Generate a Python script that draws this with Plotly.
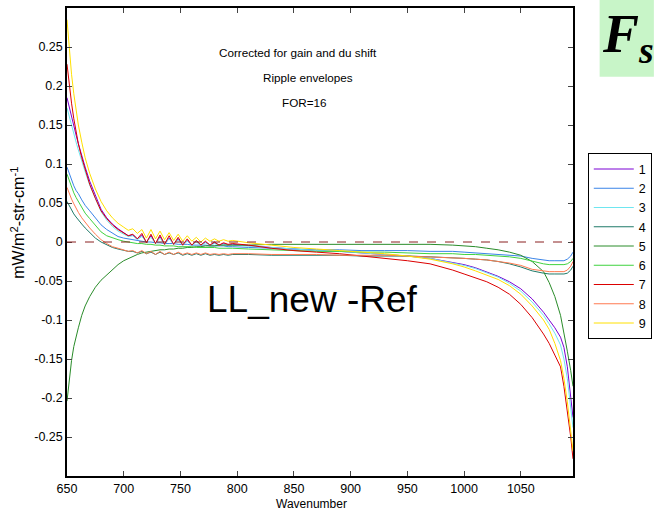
import plotly.graph_objects as go

# ---------------- data ----------------
x_left = [650, 652, 654, 656, 658, 660, 663, 666, 670, 675, 680, 685, 690, 695]
x_mid = [700, 704, 708, 712, 716, 720, 724, 728, 732, 736, 740, 744, 748, 752,
         756, 760, 764, 768, 772, 776, 780, 784, 788, 792, 796]
x_right = [810, 830, 850, 870, 890, 910, 930, 950, 970, 990, 1000, 1010, 1020,
           1030, 1040, 1050, 1060, 1070, 1075, 1080, 1085, 1088, 1091, 1094, 1096]
wavenumber = x_left + x_mid + x_right

s1 = ([0.185, 0.172, 0.160, 0.148, 0.137, 0.126, 0.110, 0.096, 0.078, 0.059, 0.042, 0.031, 0.023, 0.017]
      + [0.012, 0.008, 0.009, 0.004, 0.009, 0.000, 0.008, -0.002, 0.007, -0.003, 0.005, -0.003, 0.004,
         -0.004, 0.002, -0.004, 0.001, -0.004, 0.000, -0.004, -0.001, -0.004, -0.002, -0.004, -0.003]
      + [-0.005, -0.007, -0.009, -0.011, -0.012, -0.014, -0.016, -0.018, -0.021, -0.026, -0.029, -0.033,
         -0.038, -0.044, -0.051, -0.060, -0.073, -0.090, -0.100, -0.110, -0.122, -0.135, -0.160, -0.195, -0.225])
s2 = ([0.096, 0.087, 0.079, 0.072, 0.066, 0.062, 0.054, 0.047, 0.040, 0.031, 0.022, 0.016, 0.011, 0.007]
      + [0.005, 0.004, 0.003, 0.002, 0.001, 0.000, 0.000, -0.001, -0.001, -0.002, -0.002, -0.002, -0.003,
         -0.003, -0.003, -0.004, -0.004, -0.004, -0.004, -0.005, -0.005, -0.005, -0.005, -0.006, -0.006]
      + [-0.007, -0.008, -0.009, -0.010, -0.010, -0.011, -0.011, -0.011, -0.012, -0.012, -0.013, -0.014,
         -0.015, -0.016, -0.017, -0.018, -0.021, -0.023, -0.024, -0.024, -0.024, -0.024, -0.022, -0.018, -0.013])
s3 = ([0.172, 0.160, 0.149, 0.138, 0.128, 0.118, 0.103, 0.090, 0.073, 0.055, 0.039, 0.028, 0.020, 0.014]
      + [0.010, 0.007, 0.008, 0.003, 0.007, 0.000, 0.006, -0.002, 0.005, -0.003, 0.004, -0.003, 0.003,
         -0.004, 0.001, -0.004, 0.000, -0.004, -0.001, -0.004, -0.002, -0.004, -0.003, -0.004, -0.004]
      + [-0.005, -0.007, -0.009, -0.011, -0.012, -0.014, -0.016, -0.018, -0.021, -0.027, -0.030, -0.034,
         -0.039, -0.045, -0.053, -0.063, -0.077, -0.094, -0.105, -0.117, -0.132, -0.150, -0.175, -0.210, -0.238])
s4 = ([0.052, 0.046, 0.041, 0.036, 0.032, 0.028, 0.023, 0.018, 0.012, 0.005, 0.000, -0.004, -0.007, -0.009]
      + [-0.011, -0.012, -0.012, -0.014, -0.012, -0.015, -0.013, -0.016, -0.013, -0.016, -0.014, -0.016, -0.014,
         -0.017, -0.015, -0.017, -0.015, -0.017, -0.015, -0.017, -0.016, -0.017, -0.016, -0.017, -0.016]
      + [-0.016, -0.017, -0.017, -0.017, -0.017, -0.018, -0.018, -0.018, -0.019, -0.020, -0.021, -0.022,
         -0.023, -0.025, -0.028, -0.032, -0.037, -0.040, -0.041, -0.041, -0.041, -0.041, -0.040, -0.036, -0.031])
s5 = ([-0.204, -0.175, -0.152, -0.134, -0.120, -0.110, -0.094, -0.082, -0.070, -0.058, -0.049, -0.042, -0.035, -0.029]
      + [-0.024, -0.021, -0.018, -0.016, -0.014, -0.013, -0.012, -0.011, -0.010, -0.010, -0.009, -0.009, -0.008,
         -0.008, -0.007, -0.007, -0.006, -0.006, -0.005, -0.005, -0.005, -0.004, -0.004, -0.004, -0.004]
      + [-0.004, -0.003, -0.003, -0.003, -0.003, -0.003, -0.003, -0.003, -0.003, -0.004, -0.005, -0.006,
         -0.008, -0.010, -0.013, -0.017, -0.025, -0.038, -0.052, -0.070, -0.094, -0.115, -0.140, -0.165, -0.185])
s6 = ([0.087, 0.078, 0.070, 0.063, 0.057, 0.052, 0.044, 0.037, 0.030, 0.021, 0.013, 0.008, 0.005, 0.003]
      + [0.001, 0.000, -0.001, -0.002, -0.002, -0.003, -0.003, -0.004, -0.004, -0.005, -0.005, -0.005, -0.006,
         -0.006, -0.006, -0.006, -0.007, -0.007, -0.007, -0.007, -0.007, -0.008, -0.008, -0.008, -0.008]
      + [-0.009, -0.010, -0.011, -0.012, -0.012, -0.013, -0.013, -0.014, -0.015, -0.015, -0.016, -0.016,
         -0.017, -0.018, -0.019, -0.021, -0.025, -0.028, -0.029, -0.029, -0.029, -0.029, -0.028, -0.025, -0.021])
s7 = ([0.228, 0.200, 0.178, 0.158, 0.140, 0.126, 0.108, 0.092, 0.074, 0.056, 0.040, 0.030, 0.022, 0.016]
      + [0.011, 0.008, 0.010, 0.004, 0.011, -0.001, 0.010, -0.002, 0.009, -0.003, 0.008, -0.003, 0.006,
         -0.004, 0.004, -0.004, 0.002, -0.004, 0.001, -0.004, 0.000, -0.004, -0.001, -0.003, -0.002]
      + [-0.004, -0.008, -0.011, -0.013, -0.015, -0.018, -0.021, -0.024, -0.028, -0.036, -0.041, -0.046,
         -0.051, -0.058, -0.067, -0.080, -0.097, -0.118, -0.130, -0.145, -0.160, -0.185, -0.215, -0.250, -0.278])
s8 = ([0.070, 0.062, 0.055, 0.049, 0.043, 0.038, 0.031, 0.025, 0.018, 0.010, 0.003, -0.002, -0.006, -0.008]
      + [-0.010, -0.012, -0.011, -0.014, -0.011, -0.015, -0.012, -0.016, -0.012, -0.016, -0.013, -0.016, -0.013,
         -0.016, -0.014, -0.016, -0.014, -0.016, -0.014, -0.016, -0.015, -0.016, -0.015, -0.016, -0.015]
      + [-0.015, -0.016, -0.016, -0.016, -0.017, -0.017, -0.017, -0.018, -0.019, -0.020, -0.021, -0.022,
         -0.023, -0.025, -0.027, -0.030, -0.035, -0.037, -0.038, -0.038, -0.038, -0.038, -0.036, -0.031, -0.025])
s9 = ([0.285, 0.245, 0.215, 0.190, 0.168, 0.150, 0.128, 0.108, 0.088, 0.068, 0.052, 0.040, 0.031, 0.024]
      + [0.019, 0.015, 0.017, 0.011, 0.016, 0.005, 0.016, 0.004, 0.014, 0.003, 0.012, 0.002, 0.010,
         0.001, 0.008, 0.001, 0.006, 0.000, 0.005, 0.001, 0.004, 0.001, 0.003, 0.001, 0.002]
      + [-0.001, -0.004, -0.007, -0.009, -0.011, -0.013, -0.015, -0.018, -0.022, -0.028, -0.032, -0.037,
         -0.042, -0.048, -0.056, -0.067, -0.082, -0.100, -0.112, -0.130, -0.152, -0.175, -0.205, -0.240, -0.268])

series_names = ["1", "2", "3", "4", "5", "6", "7", "8", "9"]
series_values = [s1, s2, s3, s4, s5, s6, s7, s8, s9]
colors = ["#7b00d4", "#3a84e8", "#6ee6f0", "#1f7a68", "#2a8c2a",
          "#3fd23f", "#dc0000", "#ff7a50", "#ffe000"]

y_ticks = [-0.25, -0.2, -0.15, -0.1, -0.05, 0, 0.05, 0.1, 0.15, 0.2, 0.25]
y_ticktext = ["-0.25", "-0.2", "-0.15", "-0.1", "-0.05", "0", "0.05", "0.1", "0.15", "0.2", "0.25"]
x_ticks = [650, 700, 750, 800, 850, 900, 950, 1000, 1050]

FONT = "Liberation Sans, Arial, sans-serif"

fig = go.Figure()
for name, vals, col in zip(series_names, series_values, colors):
    fig.add_trace(go.Scatter(x=wavenumber, y=vals, mode="lines", name=name,
                             line=dict(color=col, width=1)))

# zero reference line
fig.add_shape(type="line", xref="paper", yref="y", x0=0, x1=1, y0=0, y1=0,
              line=dict(color="#8a2020", width=1, dash="dash"))

W, H = 658, 514
L, R, T, B = 67, 78, 6, 38
pw, ph = W - L - R, H - T - B

def px(xp):
    return (xp - L) / pw

def py(yp):
    return (H - B - yp) / ph

# Fs badge
fig.add_shape(type="rect", xref="paper", yref="paper", x0=px(607), x1=px(662), y0=py(75), y1=py(-4),
              fillcolor="#c8f5c8", line=dict(width=0), layer="below")
fig.add_annotation(xref="paper", yref="paper", x=px(607), y=py(36), xanchor="left", yanchor="middle",
                   text="<b><i>F<sub>s</sub></i></b>", showarrow=False,
                   font=dict(family="Liberation Serif, Times New Roman, serif", size=54, color="black"))

for txt, xc, yc in [("Corrected for gain and du shift", 301, 51),
                    ("Ripple envelopes", 311, 76),
                    ("FOR=16", 308, 101)]:
    fig.add_annotation(xref="paper", yref="paper", x=px(xc), y=py(yc), text=txt, showarrow=False,
                       xanchor="center", yanchor="middle", font=dict(family=FONT, size=11.7, color="black"))

fig.add_annotation(xref="paper", yref="paper", x=px(316), y=py(299), text="LL_new -Ref", showarrow=False,
                   xanchor="center", yanchor="middle", font=dict(family=FONT, size=37, color="black"))

fig.add_annotation(xref="paper", yref="paper", x=px(17), y=py(222),
                   text="mW/m<sup>2</sup>-str-cm<sup>-1</sup>", showarrow=False, textangle=-90,
                   xanchor="center", yanchor="middle", font=dict(family=FONT, size=16, color="black"))

fig.add_annotation(xref="paper", yref="paper", x=px(315), y=py(504), text="Wavenumber", showarrow=False,
                   xanchor="center", yanchor="middle", font=dict(family=FONT, size=12, color="black"))

fig.update_layout(
    width=W, height=H,
    margin=dict(l=L, r=R, t=T, b=B),
    paper_bgcolor="white", plot_bgcolor="white",
    showlegend=True,
    legend=dict(x=px(595), y=py(152), xanchor="left", yanchor="top",
                bgcolor="white", bordercolor="black", borderwidth=1,
                font=dict(family=FONT, size=12.5, color="black"),
                tracegroupgap=0, itemwidth=40),
    xaxis=dict(range=[650, 1096], tickvals=x_ticks, ticks="inside", ticklen=5,
               showline=True, linecolor="black", linewidth=1.5, mirror="ticks",
               showgrid=False, zeroline=False,
               tickfont=dict(family=FONT, size=12.5, color="black")),
    yaxis=dict(range=[-0.3, 0.3], tickvals=y_ticks, ticktext=y_ticktext, ticks="inside", ticklen=5,
               showline=True, linecolor="black", linewidth=1.5, mirror="ticks",
               showgrid=False, zeroline=False,
               tickfont=dict(family=FONT, size=12.5, color="black")),
)

fig.write_html("out.html")
